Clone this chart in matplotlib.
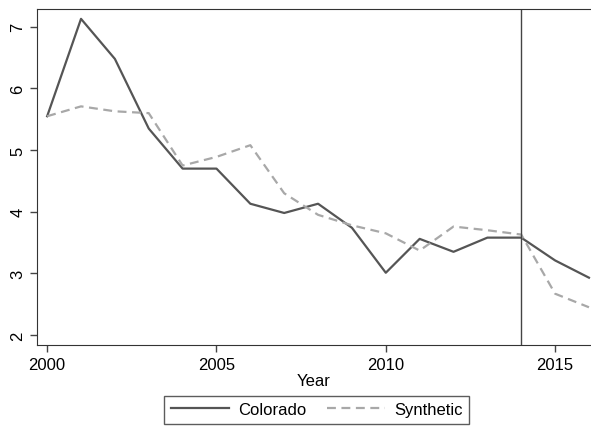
import matplotlib
matplotlib.use("Agg")
import matplotlib.pyplot as plt

plt.rcParams["font.family"] = ["Liberation Sans", "DejaVu Sans"]

# Yearly values for Colorado and its synthetic control
years = list(range(2000, 2017))
colorado = [5.55, 7.13, 6.48, 5.35, 4.70, 4.70, 4.13, 3.98, 4.13, 3.74,
            3.01, 3.56, 3.35, 3.58, 3.58, 3.21, 2.93]
synthetic = [5.55, 5.71, 5.63, 5.60, 4.75, 4.89, 5.08, 4.30, 3.95, 3.78,
             3.65, 3.37, 3.76, 3.70, 3.63, 2.67, 2.45]
treat_year = 2014

fig = plt.figure(figsize=(5.91, 4.27), dpi=100)
ax = fig.add_axes([0.0626, 0.19, 0.9374, 0.7866])

ax.plot(years, colorado, color="#555555", lw=1.6, label="Colorado")
ax.plot(years, synthetic, color="#a8a8a8", lw=1.6, ls=(0, (4, 2.5)),
        label="Synthetic")
ax.axvline(treat_year, color="#444444", lw=1.0)

ax.set_xlim(1999.7, 2016.06)
ax.set_ylim(1.84, 7.29)
ax.set_xticks([2000, 2005, 2010, 2015])
ax.set_yticks([2, 3, 4, 5, 6, 7])
ax.tick_params(axis="both", labelsize=12, length=5, width=1, color="#444444")
for lbl in ax.get_yticklabels():
    lbl.set_rotation(90)
    lbl.set_va("center")
ax.spines["right"].set_visible(False)
for s in ["left", "bottom", "top"]:
    ax.spines[s].set_color("#333333")
ax.set_xlabel("Year", fontsize=12, labelpad=1)

leg = fig.legend(loc="lower center", bbox_to_anchor=(0.536, 0.005), ncol=2,
                 fontsize=12, frameon=True, fancybox=False, handlelength=3.5,
                 handletextpad=0.55, columnspacing=1.2, borderpad=0.4,
                 borderaxespad=0)
leg.get_frame().set_edgecolor("#333333")
leg.get_frame().set_linewidth(1.0)

fig.savefig("out.png", dpi=100)
